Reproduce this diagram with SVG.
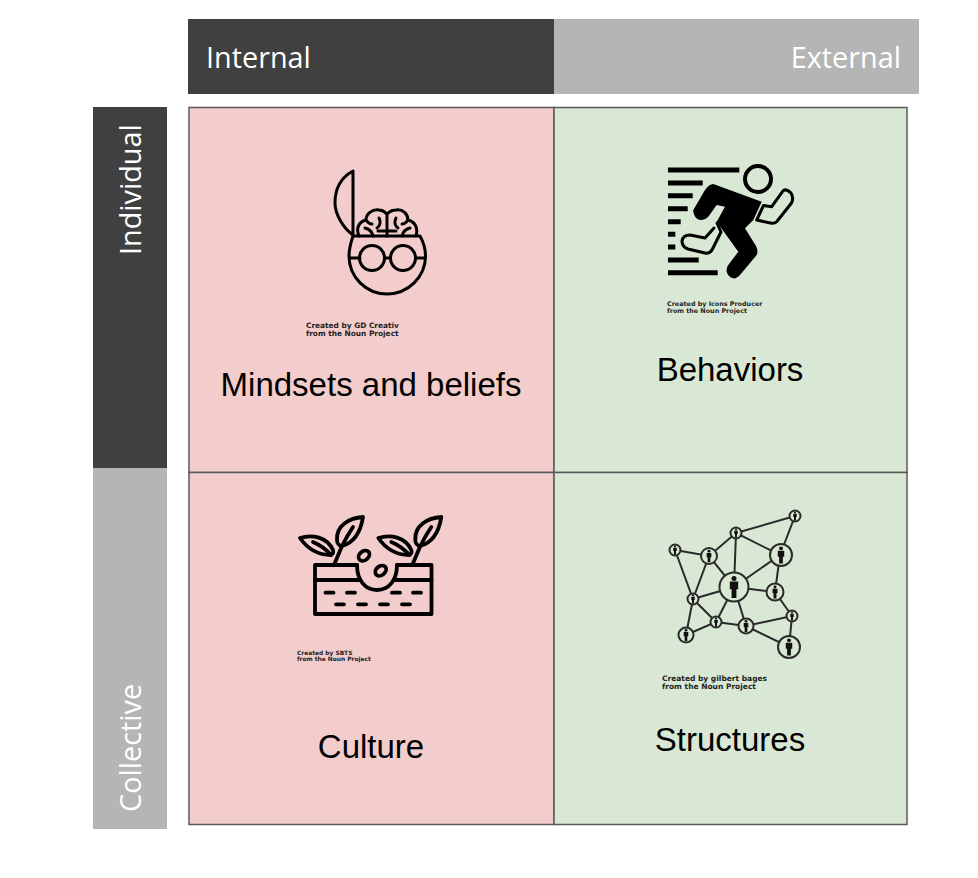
<svg xmlns="http://www.w3.org/2000/svg" width="978" height="878" viewBox="0 0 978 878">
<style>
.h{font-family:"Open Sans",sans-serif;font-size:28.800px;fill:#fff}
.l{font-family:"Liberation Sans",sans-serif;font-size:33px;fill:#000;text-anchor:middle}
.c{font-family:"DejaVu Sans",sans-serif;font-weight:700;fill:#222}
.cell{stroke:#595959;stroke-width:1.5}
.i{fill:none;stroke:#000;stroke-width:3;stroke-linecap:round;stroke-linejoin:round}
.g{fill:none;stroke:#000;stroke-width:3.800;stroke-linecap:round;stroke-linejoin:round}
.n{fill:#d9e8d5;stroke:#2a2a2a;stroke-width:2}
.e{stroke:#2a2a2a;stroke-width:2;fill:none}
</style>
<defs>
<g id="p"><circle cx="0" cy="-7.800" r="2.300" fill="#111"/><path d="M-3.800-5H3.800V2H2.200V10H-2.200V2H-3.800Z" fill="#111"/></g>
<g id="plant" class="g">
<path d="M300 538C312 534 327 537 333 550C334 552 333 554 331 555C318 555 307 548 300 538Z"/>
<path d="M313 542C320 545 326 549 331 555"/>
<path d="M363 517C350 518 336 525 337 540C337 543 339 546 342 546C356 542 361 530 363 517Z"/>
<path d="M353 527C349 533 345 540 342 546L334 565"/>
</g>
</defs>
<rect width="978" height="878" fill="#fff"/>
<g id="header-internal"><rect x="188" y="19" width="366" height="75" fill="#404040"/><text class="h" x="206" y="68">Internal</text></g>
<g id="header-external"><rect x="554" y="19" width="365" height="75" fill="#b5b5b5"/><text class="h" x="901" y="68" text-anchor="end">External</text></g>
<g id="header-individual"><rect x="93" y="107" width="74" height="361" fill="#404040"/><text class="h" transform="translate(141 255) rotate(-90)">Individual</text></g>
<g id="header-collective"><rect x="93" y="468" width="74" height="361" fill="#b5b5b5"/><text class="h" transform="translate(141 812) rotate(-90)">Collective</text></g>
<g id="connectors"></g>
<g id="mindsets">
<rect class="cell" x="189" y="107.500" width="365" height="365" fill="#f3cccc"/>
<g class="i">
<path d="M353 171V235C343 228 335 214 335 203C335 188 342 177 353 171Z"/>
<path d="M353 236H420C424 243 425.500 250 425.500 256C425.500 277 408 294 387 294C366 294 349 277 349 256C349 249 351 242 353 236Z"/>
<circle cx="372" cy="258" r="12.500"/><circle cx="403" cy="258" r="12.500"/>
<path d="M350 258H360M384.500 258H390.500M415.500 258H425"/>
<path d="M359 236C356 229 358 222 366 220C366 214 372 209 379 210C382 210 385 212 387 214C389 212 392 210 396 210C403 209 408 214 408 220C416 222 418 229 416 236"/>
<path d="M387 214V236M366 220C368 223 370 224 372 224M408 220C406 223 404 224 402 224M365 228C369 229 372 231 373 236M410 228C406 229 403 231 402 236M379 218C381 222 380 226 377 228M396 218C394 222 395 226 398 228M387 231H378M387 231H396"/>
</g>
<text class="c" style="font-size:7.400px" x="306" y="328">Created by GD Creativ</text>
<text class="c" style="font-size:7.400px" x="306" y="335.500">from the Noun Project</text>
<text class="l" x="371" y="396">Mindsets and beliefs</text>
</g>
<g id="behaviors">
<rect class="cell" x="554" y="107.500" width="353" height="365" fill="#d9e8d5"/>
<path d="M668 167.500H739.300V172.500H668ZM668 180.500H702.700V185.500H668ZM668 193.200H692.700V198.200H668ZM668 206.200H687.700V211.200H668ZM668 219.200H680.700V224.200H668ZM668 231.800H675.300V236.800H668ZM668 244.500H675.300V249.500H668ZM668 257.500H698.700V262.500H668ZM668 270.200H717.700V275.200H668Z"/>
<circle cx="758" cy="179" r="13" fill="none" stroke="#000" stroke-width="4"/>
<path d="M693.300 210L705 190Q709 184 713.300 184L761.700 201.700L753.300 220L745 228.300L756 246Q758.500 251 756.700 255L740 275Q736 279 733.300 278.300Q728 277 726.700 271.700Q726 268 728.300 265L738.300 251.700L716.700 221.700L725 206.700L716.700 205L708.300 216.700Q705 220 701.700 220Q696 220 694.300 215Q693 212 693.300 210Z"/>
<path class="i" d="M763.500 205.500L756.700 220L771.700 223.300Q775 223.500 776.700 221.700L791.500 203Q794 198 791 193Q787 188.500 783.300 190.500L771.700 206.700Z"/>
<path class="i" d="M717 223L721 232L712 250Q709 254 705 253L688 249Q682 247 682 241Q683 235 690 235L705 238L714 228"/>
<text class="c" style="font-size:6.400px" x="667" y="305.500">Created by Icons Producer</text>
<text class="c" style="font-size:6.400px" x="667" y="312.500">from the Noun Project</text>
<text class="l" x="730" y="381">Behaviors</text>
</g>
<g id="culture">
<rect class="cell" x="189" y="472.500" width="365" height="352" fill="#f3cccc"/>
<use href="#plant"/><use href="#plant" x="78.300"/>
<g class="g">
<path d="M357 565H315V614H431.500V565H397"/>
<path d="M357 565C357 580 365 590 377 590C389 590 397 580 397 565"/>
<path d="M315 580H360M394 580H431.500"/>
<ellipse cx="364" cy="555.700" rx="6" ry="4.500" transform="rotate(-40 364 555.700)"/>
<ellipse cx="380.700" cy="570.700" rx="6" ry="4.500" transform="rotate(-40 380.700 570.700)"/>
<path d="M325.500 592.700H333.500M347 592.700H355M392 592.700H400M413 592.700H421M336 604.300H344M358 604.300H366M380 604.300H388M402 604.300H410"/>
</g>
<text class="c" style="font-size:5.900px" x="297" y="654.500">Created by SBTS</text>
<text class="c" style="font-size:5.900px" x="297" y="660.500">from the Noun Project</text>
<text class="l" x="371" y="758">Culture</text>
</g>
<g id="structures">
<rect class="cell" x="554" y="472.500" width="353" height="352" fill="#d9e8d5"/>
<path class="e" d="M795 516L736 533L780 555L795 516M675 550L709 556L736 533L734 587L709 556L693 599M675 550L693 599L734 587L780 555L775 592L734 587L746 626L716 622L734 587M693 599L716 622L686 635L693 599M716 622L746 626L792 616L775 592M746 626L789 647L792 616"/>
<g class="n">
<circle cx="795" cy="516" r="5.500"/><circle cx="736" cy="533" r="5.500"/><circle cx="675" cy="550" r="5.500"/><circle cx="709" cy="556" r="8"/><circle cx="781" cy="555" r="11"/><circle cx="734" cy="587" r="14.500"/><circle cx="775" cy="592" r="8.500"/><circle cx="693" cy="599" r="5.500"/><circle cx="716" cy="622" r="5.500"/><circle cx="746" cy="626" r="7.500"/><circle cx="792" cy="616" r="5.500"/><circle cx="686" cy="635" r="7.500"/><circle cx="789" cy="647" r="11"/>
</g>
<use href="#p" transform="translate(795 516) scale(.45)"/><use href="#p" transform="translate(736 533) scale(.45)"/><use href="#p" transform="translate(675 550) scale(.45)"/><use href="#p" transform="translate(709 556) scale(.62)"/><use href="#p" transform="translate(781 555) scale(.85)"/><use href="#p" transform="translate(734 587) scale(1.100)"/><use href="#p" transform="translate(775 592) scale(.65)"/><use href="#p" transform="translate(693 599) scale(.45)"/><use href="#p" transform="translate(716 622) scale(.45)"/><use href="#p" transform="translate(746 626) scale(.6)"/><use href="#p" transform="translate(792 616) scale(.45)"/><use href="#p" transform="translate(686 635) scale(.6)"/><use href="#p" transform="translate(789 647) scale(.85)"/>
<text class="c" x="662" y="681" style="font-size:7.500px">Created by gilbert bages</text>
<text class="c" x="662" y="688.500" style="font-size:7.500px">from the Noun Project</text>
<text class="l" x="730" y="751">Structures</text>
</g>
</svg>
